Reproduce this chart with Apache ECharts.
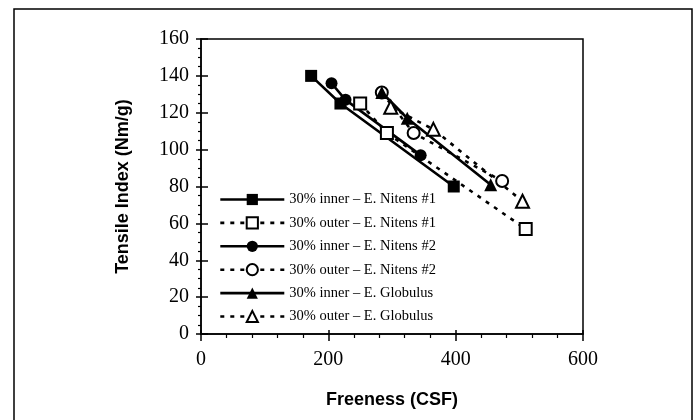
<!DOCTYPE html>
<html>
<head>
    <meta charset="utf-8">
    <title>Tensile Index vs Freeness</title>
    <style>
        body { margin: 0; padding: 0; background: #fff; }
        #chart { width: 695px; height: 420px; }
    </style>
</head>
<body>
    <div id="chart"></div>
    <script src="https://cdn.jsdelivr.net/npm/echarts@6/dist/echarts.min.js"></script>
    <script>
        // values (freeness CSF, tensile index Nm/g)
        const innerN1X = [173, 219, 397];
        const innerN1Y = [140, 125, 80];
        const outerN1X = [250, 292, 510];
        const outerN1Y = [125, 109, 57];
        const innerN2X = [205, 227, 345];
        const innerN2Y = [136, 127, 97];
        const outerN2X = [284, 334, 473];
        const outerN2Y = [131, 109, 83];
        const innerGlX = [284, 324, 455];
        const innerGlY = [131, 117, 81];
        const outerGlX = [298, 365, 505];
        const outerGlY = [123, 111, 72];

        const names = [
            '30% inner – E. Nitens #1',
            '30% outer – E. Nitens #1',
            '30% inner – E. Nitens #2',
            '30% outer – E. Nitens #2',
            '30% inner – E. Globulus',
            '30% outer – E. Globulus'
        ];

        const pairs = (xs, ys) => xs.map((x, i) => [x, ys[i]]);
        const serif = '"Liberation Serif", "Times New Roman", serif';
        const sans = '"Liberation Sans", Arial, sans-serif';

        function mkSeries(name, xs, ys, symbol, size, open) {
            return {
                name: name,
                type: 'line',
                data: pairs(xs, ys),
                symbol: symbol,
                symbolSize: size,
                showSymbol: true,
                lineStyle: { color: '#000', width: 2.6, type: open ? [4, 6] : 'solid' },
                itemStyle: {
                    color: open ? '#fff' : '#000',
                    borderColor: '#000',
                    borderWidth: open ? 2 : 0
                },
                emphasis: { disabled: true },
                animation: false
            };
        }

        const chart = echarts.init(document.getElementById('chart'));
        chart.setOption({
            animation: false,
            grid: {
                left: 201, top: 39, right: 112, bottom: 86,
                show: true, borderColor: '#000', borderWidth: 1.5, backgroundColor: 'transparent'
            },
            graphic: [{
                type: 'rect',
                shape: { x: 14, y: 9, width: 678, height: 430 },
                style: { fill: 'none', stroke: '#000', lineWidth: 1.5 },
                silent: true
            }],
            legend: {
                orient: 'vertical',
                left: 214,
                top: 187,
                itemWidth: 64,
                itemHeight: 14,
                itemGap: 8.4,
                data: names,
                lineStyle: { width: 2.6 },
                textStyle: { fontFamily: serif, fontSize: 14.5, color: '#000', lineHeight: 14 },
                selectedMode: false
            },
            xAxis: [{
                type: 'value', min: 0, max: 600, interval: 200,
                position: 'bottom',
                name: 'Freeness (CSF)', nameLocation: 'middle', nameGap: 57,
                nameTextStyle: { fontFamily: sans, fontWeight: 'bold', fontSize: 18, color: '#000' },
                axisLine: { show: true, lineStyle: { color: '#000', width: 1.5 } },
                axisTick: { show: true, length: 7, lineStyle: { color: '#000', width: 1.5 } },
                minorTick: { show: true, splitNumber: 5, length: 4, lineStyle: { color: '#000', width: 1.2 } },
                axisLabel: { fontFamily: serif, fontSize: 20, color: '#000', margin: 16 },
                splitLine: { show: false }
            }, {
                type: 'value', min: 0, max: 600, interval: 200,
                position: 'bottom',
                axisLine: { show: false },
                axisTick: { show: true, inside: true, length: 4, lineStyle: { color: '#000', width: 1.5 } },
                axisLabel: { show: false },
                splitLine: { show: false }
            }],
            yAxis: [{
                type: 'value', min: 0, max: 160, interval: 20,
                position: 'left',
                name: 'Tensile Index (Nm/g)', nameLocation: 'middle', nameGap: 69,
                nameTextStyle: { fontFamily: sans, fontWeight: 'bold', fontSize: 18, color: '#000' },
                axisLine: { show: true, lineStyle: { color: '#000', width: 1.5 } },
                axisTick: { show: true, length: 5, lineStyle: { color: '#000', width: 1.5 } },
                minorTick: { show: true, splitNumber: 4, length: 3, lineStyle: { color: '#000', width: 1.2 } },
                axisLabel: { fontFamily: serif, fontSize: 20, color: '#000', margin: 12 },
                splitLine: { show: false }
            }, {
                type: 'value', min: 0, max: 160, interval: 20,
                position: 'left',
                axisLine: { show: false },
                axisTick: { show: true, inside: true, length: 7, lineStyle: { color: '#000', width: 1.5 } },
                axisLabel: { show: false },
                splitLine: { show: false }
            }],
            series: [
                mkSeries(names[0], innerN1X, innerN1Y, 'rect', 12, false),
                mkSeries(names[1], outerN1X, outerN1Y, 'rect', 12, true),
                mkSeries(names[2], innerN2X, innerN2Y, 'circle', 12, false),
                mkSeries(names[3], outerN2X, outerN2Y, 'circle', 12, true),
                mkSeries(names[4], innerGlX, innerGlY, 'triangle', 13, false),
                mkSeries(names[5], outerGlX, outerGlY, 'triangle', 13, true)
            ]
        });
    </script>
</body>
</html>
